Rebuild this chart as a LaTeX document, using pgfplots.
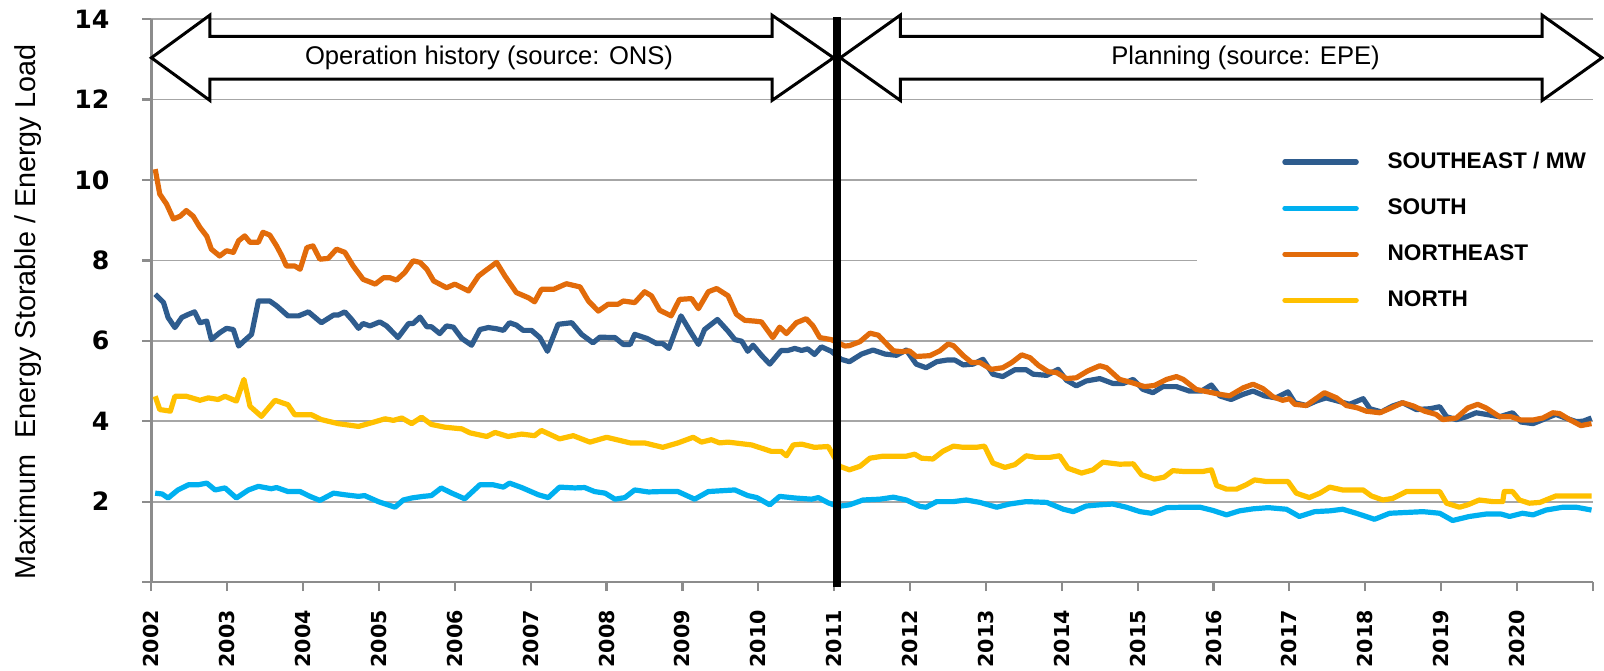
\documentclass[border=0pt]{standalone}
\usepackage{fontspec}
\setmainfont{Liberation Sans}
\newfontfamily\dejavu{DejaVu Sans}
\usepackage{pgfplots}
\pgfplotsset{compat=1.18}
\definecolor{cSE}{HTML}{2E5C8E}
\definecolor{cS}{HTML}{00B0F0}
\definecolor{cNE}{HTML}{E26B0A}
\definecolor{cN}{HTML}{FFC000}
\definecolor{gridgray}{HTML}{A6A6A6}
\definecolor{axisgray}{HTML}{8C8C8C}
\begin{document}
\begin{tikzpicture}
\useasboundingbox (-75.7pt,-44pt) rectangle (726.3pt,291pt);
\begin{axis}[
  scale only axis, width=720.8pt, height=281.4pt,
  xmin=2002, xmax=2021, ymin=0, ymax=14,
  clip=false,
  axis x line=bottom, axis y line=left,
  axis line style={draw=axisgray, line width=1.3pt, -},
  xtick={2002,...,2020},
  extra x ticks={2021}, extra x tick labels={}, extra x tick style={grid=none},
  ytick={2,4,...,14},
  extra y ticks={0}, extra y tick labels={}, extra y tick style={grid=none},
  ymajorgrids, grid style={gridgray, line width=0.9pt},
  tick align=outside, major tick length=4.5pt,
  tick style={axisgray, line width=1.1pt},
  /pgf/number format/assume math mode=true,
  /pgf/number format/1000 sep={},
  yticklabel style={font=\dejavu\bfseries\fontsize{12.6}{13}\selectfont, xshift=-13pt},
  xticklabel style={font=\dejavu\bfseries\fontsize{10.3}{11}\selectfont, yshift=-6pt, rotate=90, anchor=east},
  ylabel={Maximum~ Energy Storable / Energy Load},
  ylabel style={font=\fontsize{14.4}{16}\selectfont, at={(axis description cs:-0.0856,0.48)}, anchor=center},
  legend style={at={(0.7842,0.7713)}, anchor=north west, draw=none, fill=none,
    inner sep=0pt, row sep=9.6pt,
    font=\bfseries\fontsize{11.3}{13}\selectfont,
    /tikz/every odd column/.append style={column sep=12.4pt}},
  legend cell align=left,
  legend image code/.code={\draw[#1, line cap=round] (1.35pt,0pt) -- (37pt,0pt);},
  every axis plot/.append style={line width=2.6pt, line join=round},
]
\fill[white] (axis cs:2015.78,6.6) rectangle (axis cs:2021.2,11.4);

\addplot[cSE] coordinates {
(2002.05,7.16) (2002.16,6.95) (2002.22,6.58) (2002.31,6.33) (2002.40,6.58) (2002.49,6.66) (2002.57,6.72) (2002.64,6.45) (2002.73,6.49) (2002.79,6.03) (2002.90,6.20) (2002.99,6.31) (2003.08,6.28) (2003.15,5.87) (2003.23,6.01) (2003.32,6.16) (2003.41,6.99) (2003.56,6.99) (2003.65,6.87) (2003.80,6.62) (2003.94,6.62) (2004.07,6.72) (2004.24,6.45) (2004.40,6.64) (2004.46,6.64) (2004.55,6.72) (2004.64,6.53) (2004.73,6.31) (2004.79,6.43) (2004.88,6.37) (2005.01,6.47) (2005.10,6.37) (2005.25,6.08) (2005.39,6.43) (2005.45,6.43) (2005.54,6.59) (2005.63,6.35) (2005.69,6.35) (2005.80,6.18) (2005.89,6.37) (2005.98,6.34) (2006.09,6.06) (2006.22,5.89) (2006.33,6.28) (2006.44,6.33)
(2006.55,6.30) (2006.64,6.26) (2006.72,6.45) (2006.81,6.39) (2006.90,6.26) (2007.01,6.26) (2007.12,6.08) (2007.22,5.74) (2007.36,6.41) (2007.54,6.45) (2007.67,6.16) (2007.82,5.95) (2007.91,6.09) (2008.11,6.08) (2008.22,5.91) (2008.31,5.91) (2008.37,6.16) (2008.53,6.06) (2008.66,5.93) (2008.74,5.93) (2008.82,5.81) (2008.98,6.62) (2009.10,6.24) (2009.21,5.91) (2009.29,6.28) (2009.46,6.53) (2009.60,6.24) (2009.69,6.03) (2009.78,5.99) (2009.86,5.74) (2009.93,5.89) (2010.04,5.64) (2010.15,5.42) (2010.30,5.76) (2010.39,5.76) (2010.48,5.81) (2010.57,5.76) (2010.65,5.80) (2010.74,5.66) (2010.83,5.85) (2010.96,5.74) (2011.09,5.54)
(2011.20,5.48) (2011.36,5.67) (2011.51,5.77) (2011.67,5.67) (2011.82,5.64) (2011.95,5.77) (2012.08,5.42) (2012.21,5.33) (2012.35,5.48) (2012.48,5.52) (2012.59,5.52) (2012.70,5.40) (2012.83,5.42) (2012.96,5.54) (2013.09,5.17) (2013.22,5.11) (2013.38,5.28) (2013.53,5.28) (2013.62,5.17) (2013.80,5.14) (2013.95,5.29) (2014.06,5.02) (2014.19,4.88) (2014.32,5.00) (2014.50,5.06) (2014.67,4.94) (2014.81,4.94) (2014.94,5.04) (2015.07,4.79) (2015.20,4.71) (2015.33,4.86) (2015.51,4.86) (2015.68,4.75) (2015.84,4.75) (2015.97,4.90)
(2016.08,4.63) (2016.23,4.54) (2016.39,4.67) (2016.52,4.75) (2016.67,4.63) (2016.82,4.58) (2016.98,4.73) (2017.07,4.46) (2017.22,4.39) (2017.35,4.50) (2017.48,4.58) (2017.64,4.50) (2017.79,4.42) (2017.97,4.56) (2018.06,4.31) (2018.21,4.23) (2018.36,4.38) (2018.49,4.46) (2018.67,4.29) (2018.85,4.31) (2018.98,4.36) (2019.07,4.11) (2019.20,4.04) (2019.33,4.11) (2019.46,4.21) (2019.59,4.17) (2019.77,4.11) (2019.94,4.21) (2020.05,3.98) (2020.21,3.94) (2020.34,4.04) (2020.51,4.17) (2020.65,4.07) (2020.78,3.99) (2020.87,4.00) (2020.98,4.08)
};
\addlegendentry{SOUTHEAST / MW}

\addplot[cS] coordinates {
(2002.05,2.21) (2002.14,2.19) (2002.22,2.09) (2002.35,2.29) (2002.49,2.42) (2002.62,2.42) (2002.73,2.46) (2002.84,2.29) (2002.97,2.34) (2003.12,2.09) (2003.28,2.29) (2003.41,2.38) (2003.58,2.32) (2003.65,2.35) (2003.80,2.25) (2003.96,2.25) (2004.09,2.13) (2004.22,2.03) (2004.40,2.21) (2004.55,2.17) (2004.73,2.13) (2004.81,2.15) (2004.99,2.00) (2005.21,1.86) (2005.32,2.04) (2005.43,2.09) (2005.58,2.13) (2005.69,2.15) (2005.82,2.34) (2005.96,2.21) (2006.13,2.07) (2006.33,2.42) (2006.50,2.42)
(2006.64,2.36) (2006.72,2.46) (2006.88,2.35) (2007.10,2.17) (2007.23,2.10) (2007.38,2.36) (2007.58,2.34) (2007.71,2.35) (2007.84,2.25) (2007.98,2.21) (2008.11,2.06) (2008.24,2.10) (2008.37,2.29) (2008.55,2.24) (2008.72,2.25) (2008.94,2.25) (2009.16,2.06) (2009.34,2.25) (2009.51,2.27) (2009.69,2.29) (2009.86,2.15) (2009.98,2.10) (2010.15,1.92) (2010.28,2.13) (2010.48,2.09) (2010.70,2.06) (2010.79,2.10) (2010.92,1.97) (2011.05,1.88)
(2011.20,1.92) (2011.38,2.04) (2011.60,2.06) (2011.78,2.11) (2011.95,2.04) (2012.13,1.88) (2012.21,1.86) (2012.35,2.00) (2012.57,2.00) (2012.74,2.04) (2012.92,1.98) (2013.14,1.86) (2013.31,1.94) (2013.53,2.00) (2013.80,1.98) (2014.02,1.81) (2014.15,1.75) (2014.32,1.89) (2014.50,1.92) (2014.67,1.94) (2014.85,1.86) (2015.03,1.75) (2015.18,1.71) (2015.38,1.85) (2015.60,1.86) (2015.82,1.86) (2015.99,1.78)
(2016.17,1.67) (2016.34,1.77) (2016.52,1.82) (2016.72,1.85) (2016.96,1.81) (2017.13,1.63) (2017.33,1.75) (2017.53,1.77) (2017.70,1.81) (2017.88,1.71) (2018.12,1.56) (2018.32,1.71) (2018.54,1.73) (2018.76,1.75) (2018.98,1.71) (2019.15,1.53) (2019.37,1.63) (2019.59,1.69) (2019.79,1.69) (2019.90,1.63) (2020.07,1.71) (2020.21,1.67) (2020.38,1.79) (2020.60,1.86) (2020.78,1.86) (2020.98,1.79)
};
\addlegendentry{SOUTH}

\addplot[cNE] coordinates {
(2002.05,10.27) (2002.11,9.65) (2002.20,9.40) (2002.29,9.03) (2002.38,9.10) (2002.46,9.24) (2002.55,9.10) (2002.64,8.82) (2002.73,8.60) (2002.79,8.28) (2002.90,8.11) (2002.99,8.24) (2003.08,8.20) (2003.15,8.49) (2003.23,8.61) (2003.30,8.45) (2003.41,8.45) (2003.47,8.70) (2003.56,8.63) (2003.65,8.36) (2003.72,8.11) (2003.78,7.86) (2003.89,7.86) (2003.96,7.78) (2004.05,8.32) (2004.13,8.36) (2004.22,8.03) (2004.33,8.05) (2004.44,8.28) (2004.55,8.20) (2004.66,7.86) (2004.79,7.53) (2004.95,7.41) (2005.06,7.57) (2005.14,7.57) (2005.23,7.51) (2005.34,7.70) (2005.45,7.99) (2005.54,7.95) (2005.63,7.78) (2005.72,7.49) (2005.89,7.32) (2006.00,7.41) (2006.18,7.24) (2006.31,7.61) (2006.40,7.74) (2006.55,7.95)
(2006.66,7.61) (2006.81,7.20) (2006.97,7.07) (2007.05,6.97) (2007.14,7.28) (2007.30,7.28) (2007.47,7.42) (2007.65,7.34) (2007.76,6.99) (2007.89,6.74) (2008.02,6.91) (2008.15,6.91) (2008.22,6.99) (2008.37,6.95) (2008.50,7.22) (2008.59,7.12) (2008.70,6.76) (2008.85,6.62) (2008.96,7.03) (2009.12,7.05) (2009.21,6.80) (2009.34,7.22) (2009.45,7.30) (2009.60,7.12) (2009.71,6.66) (2009.82,6.51) (2009.95,6.49) (2010.04,6.47) (2010.19,6.08) (2010.28,6.34) (2010.37,6.18) (2010.50,6.45) (2010.63,6.55) (2010.72,6.37) (2010.81,6.08) (2010.96,6.03) (2011.14,5.87)
(2011.20,5.88) (2011.34,5.98) (2011.47,6.19) (2011.58,6.14) (2011.67,5.96) (2011.78,5.75) (2011.89,5.73) (2011.99,5.75) (2012.08,5.61) (2012.26,5.63) (2012.39,5.75) (2012.50,5.92) (2012.57,5.88) (2012.70,5.63) (2012.81,5.46) (2012.92,5.46) (2013.07,5.29) (2013.22,5.33) (2013.34,5.46) (2013.47,5.65) (2013.58,5.58) (2013.69,5.39) (2013.82,5.23) (2013.93,5.21) (2014.06,5.06) (2014.19,5.08) (2014.34,5.25) (2014.50,5.38) (2014.59,5.33) (2014.76,5.04) (2014.92,4.96) (2015.09,4.86) (2015.22,4.89) (2015.38,5.04) (2015.51,5.11) (2015.60,5.04) (2015.77,4.79) (2015.95,4.72)
(2016.08,4.67) (2016.21,4.63) (2016.39,4.83) (2016.52,4.92) (2016.65,4.81) (2016.78,4.61) (2016.91,4.52) (2017.00,4.56) (2017.07,4.42) (2017.22,4.39) (2017.46,4.71) (2017.62,4.58) (2017.75,4.39) (2017.90,4.33) (2018.01,4.25) (2018.19,4.21) (2018.34,4.33) (2018.49,4.46) (2018.63,4.38) (2018.78,4.25) (2018.93,4.17) (2019.02,4.04) (2019.20,4.08) (2019.35,4.33) (2019.48,4.42) (2019.59,4.33) (2019.77,4.11) (2019.92,4.11) (2020.05,4.03) (2020.21,4.03) (2020.34,4.08) (2020.47,4.21) (2020.56,4.19) (2020.69,4.04) (2020.84,3.89) (2020.98,3.94)
};
\addlegendentry{NORTHEAST}

\addplot[cN] coordinates {
(2002.05,4.62) (2002.11,4.29) (2002.25,4.25) (2002.31,4.62) (2002.46,4.62) (2002.64,4.52) (2002.75,4.58) (2002.88,4.54) (2002.97,4.62) (2003.12,4.50) (2003.22,5.04) (2003.30,4.37) (2003.45,4.12) (2003.63,4.52) (2003.80,4.41) (2003.89,4.16) (2004.02,4.16) (2004.11,4.16) (2004.24,4.04) (2004.46,3.94) (2004.73,3.87) (2004.90,3.96) (2005.08,4.06) (2005.19,4.02) (2005.30,4.08) (2005.43,3.94) (2005.56,4.10) (2005.69,3.92) (2005.87,3.85) (2006.09,3.81) (2006.20,3.71) (2006.42,3.62) (2006.53,3.72)
(2006.70,3.62) (2006.88,3.68) (2007.05,3.64) (2007.14,3.77) (2007.38,3.56) (2007.56,3.64) (2007.78,3.48) (2008.00,3.60) (2008.31,3.46) (2008.50,3.46) (2008.74,3.35) (2008.94,3.46) (2009.14,3.60) (2009.25,3.48) (2009.38,3.54) (2009.49,3.46) (2009.60,3.48) (2009.91,3.41) (2010.17,3.25) (2010.30,3.25) (2010.37,3.14) (2010.46,3.41) (2010.57,3.43) (2010.74,3.35) (2010.92,3.37)
(2011.07,2.88) (2011.20,2.79) (2011.34,2.88) (2011.47,3.08) (2011.64,3.13) (2011.95,3.13) (2012.06,3.18) (2012.15,3.08) (2012.30,3.06) (2012.43,3.25) (2012.57,3.38) (2012.70,3.35) (2012.87,3.35) (2012.98,3.38) (2013.09,2.96) (2013.25,2.85) (2013.38,2.92) (2013.53,3.14) (2013.66,3.10) (2013.84,3.10) (2013.97,3.14) (2014.08,2.83) (2014.26,2.71) (2014.41,2.79) (2014.54,2.98) (2014.76,2.93) (2014.94,2.94) (2015.05,2.67) (2015.22,2.56) (2015.35,2.61) (2015.46,2.77) (2015.60,2.75) (2015.86,2.75) (2015.97,2.79) (2016.04,2.40)
(2016.17,2.31) (2016.30,2.31) (2016.43,2.42) (2016.54,2.54) (2016.69,2.50) (2016.98,2.50) (2017.09,2.21) (2017.26,2.10) (2017.40,2.21) (2017.53,2.36) (2017.70,2.29) (2017.97,2.29) (2018.08,2.14) (2018.23,2.04) (2018.36,2.08) (2018.54,2.25) (2018.76,2.25) (2018.98,2.25) (2019.07,1.96) (2019.24,1.86) (2019.35,1.92) (2019.50,2.04) (2019.68,2.00) (2019.81,2.00) (2019.83,2.25) (2019.94,2.25) (2020.03,2.04) (2020.16,1.96) (2020.30,1.98) (2020.51,2.14) (2020.73,2.14) (2020.98,2.14)
};
\addlegendentry{NORTH}

% divider between history and planning
\draw[black, line width=4pt] (axis cs:2011.03,-0.12) -- (axis cs:2011.03,14.05);

% block arrows
\draw[black, line width=1.5pt, fill=white, line join=miter]
 (axis cs:2002.00,13.04) -- (axis cs:2002.77,14.10) -- (axis cs:2002.77,13.57) -- (axis cs:2010.18,13.57) -- (axis cs:2010.18,14.10) -- (axis cs:2010.99,13.04) -- (axis cs:2010.18,11.98) -- (axis cs:2010.18,12.51) -- (axis cs:2002.77,12.51) -- (axis cs:2002.77,11.98) -- cycle;
\draw[black, line width=1.5pt, fill=white, line join=miter]
 (axis cs:2011.08,13.04) -- (axis cs:2011.87,14.10) -- (axis cs:2011.87,13.57) -- (axis cs:2020.33,13.57) -- (axis cs:2020.33,14.10) -- (axis cs:2021.12,13.04) -- (axis cs:2020.33,11.98) -- (axis cs:2020.33,12.51) -- (axis cs:2011.87,12.51) -- (axis cs:2011.87,11.98) -- cycle;
\node[font=\fontsize{12.8}{14}\selectfont] at (axis cs:2006.45,13.04) {Operation history (source: ONS)};
\node[font=\fontsize{12.8}{14}\selectfont] at (axis cs:2016.42,13.04) {Planning (source: EPE)};
\end{axis}
\end{tikzpicture}
\end{document}
